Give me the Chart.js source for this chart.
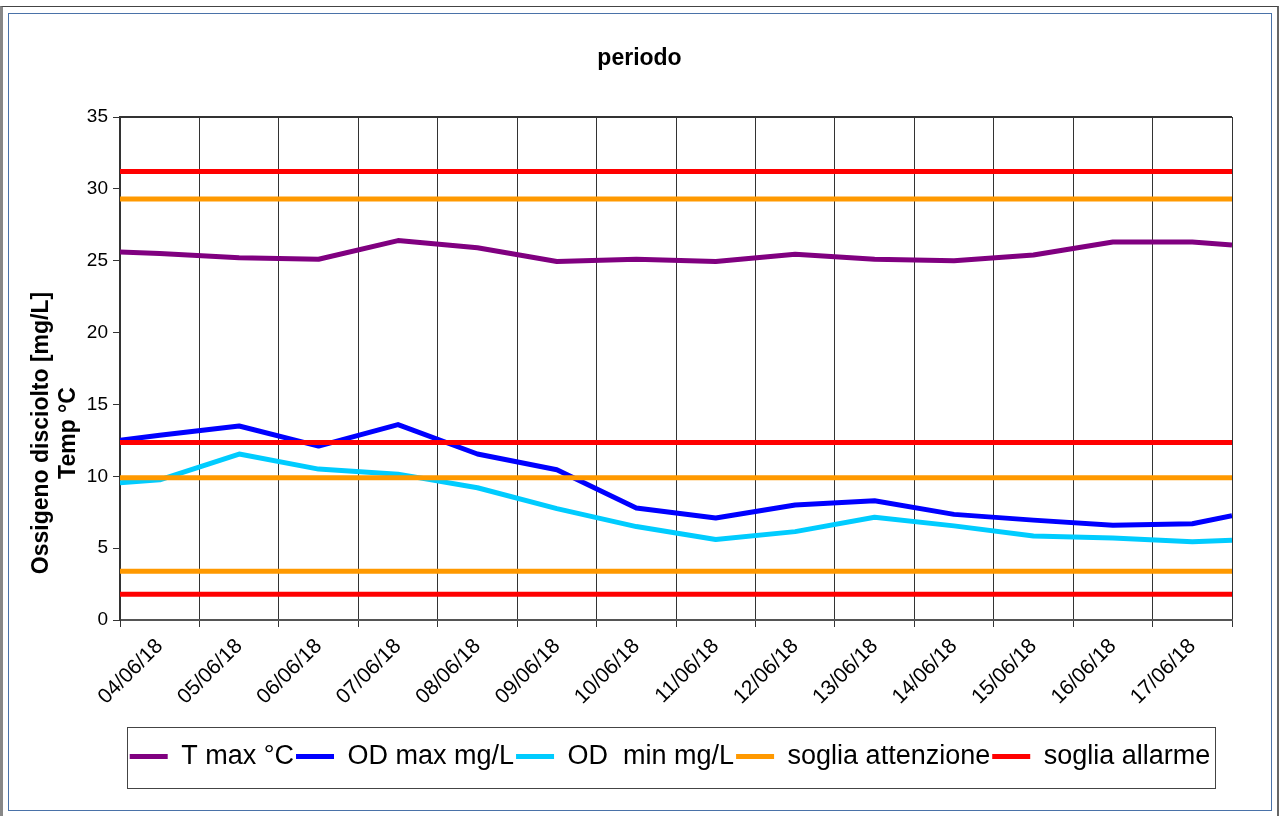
<!DOCTYPE html>
<html>
<head>
<meta charset="utf-8">
<script src="https://cdn.jsdelivr.net/npm/chart.js@4.4.1/dist/chart.umd.min.js"></script>
<style>
html,body{margin:0;padding:0;background:#fff;}
#wrap{position:relative;width:1279px;height:816px;overflow:hidden;background:#fff;}
#outer{position:absolute;left:0;top:6px;width:1279px;height:812px;border-top:1px solid #444;border-left:3px solid #888;border-right:2px solid #666;box-sizing:border-box;}
#inner{position:absolute;left:8px;top:13px;width:1264px;height:798px;border:1px solid #4a72a8;box-sizing:border-box;}
#c{position:absolute;left:0;top:0;}
</style>
</head>
<body>
<div id="wrap"><div id="outer"></div><div id="inner"></div><canvas id="c" width="1279" height="816"></canvas></div>
<script>
// ---- data ----
const dates = ['04/06/18','05/06/18','06/06/18','07/06/18','08/06/18','09/06/18','10/06/18',
               '11/06/18','12/06/18','13/06/18','14/06/18','15/06/18','16/06/18','17/06/18'];
// sample positions in days from 04/06/18 (first/last = period start/end)
const samplePos = [-0.5,0,1,2,3,4,5,6,7,8,9,10,11,12,13,13.5];
const tMax  = [25.6,25.5,25.2,25.1,26.4,25.9,24.95,25.1,24.95,25.45,25.1,25.0,25.4,26.3,26.3,26.1];
const odMax = [12.5,12.85,13.5,12.1,13.6,11.55,10.45,7.8,7.1,8.0,8.3,7.35,6.95,6.6,6.7,7.25];
const odMin = [9.55,9.75,11.55,10.5,10.15,9.2,7.75,6.5,5.6,6.15,7.15,6.55,5.85,5.7,5.45,5.55];
const sogliaAttenzione = [29.3, 9.9, 3.4];
const sogliaAllarme = [31.2, 12.35, 1.8];
const seriesNames = ['T max °C','OD max mg/L','OD  min mg/L','soglia attenzione','soglia allarme'];
const yTicks = [0,5,10,15,20,25,30,35];
const yTitle = ['Ossigeno disciolto [mg/L]','Temp °C'];
const chartTitle = 'periodo';

// ---- build ----
const FONT = '"Liberation Sans", Arial, sans-serif';
const LEG_PAD = 2;
const pts = vals => vals.map((v,i)=>({x: samplePos[i], y: v}));
const levels = lv => {
  const a = samplePos[0], b = samplePos[samplePos.length-1];
  const out = [];
  lv.forEach(v => { out.push({x:a,y:v},{x:b,y:v},{x:b,y:null}); });
  return out;
};
const mk = (label, data, color, order) => ({
  label, data, borderColor: color, backgroundColor: color, borderWidth: 5,
  pointRadius: 0, pointHoverRadius: 0, tension: 0, fill: false, xAxisID: 'xd', yAxisID: 'y',
  order, borderJoinStyle: 'round', borderCapStyle: 'butt'
});

const decor = {
  id: 'decor',
  afterLayout(chart) {
    const lg = chart.legend;
    if (lg) { lg.left -= 6; lg.right -= 6; }
  },
  beforeDatasetsDraw(chart) {
    const {ctx, chartArea: a} = chart;
    ctx.save();
    ctx.strokeStyle = '#333'; ctx.lineWidth = 2;
    ctx.beginPath(); ctx.moveTo(a.left, a.top); ctx.lineTo(a.right, a.top); ctx.stroke();
    ctx.restore();
  },
  afterDraw(chart) {
    const ctx = chart.ctx;
    ctx.save();
    ctx.fillStyle = '#000';
    ctx.font = 'bold 23px ' + FONT;
    ctx.textAlign = 'center'; ctx.textBaseline = 'middle';
    ctx.translate(42, 433); ctx.rotate(-Math.PI/2);
    ctx.fillText(yTitle[0], 0, 0);
    ctx.fillText(yTitle[1], 0, 27);
    ctx.restore();
    const lg = chart.legend;
    if (lg && lg.lineWidths) {
      const w = lg.lineWidths[0];
      const start = (lg.left + LEG_PAD + lg.right - w) / 2;
      const l = start - 3;
      const r = start + w - LEG_PAD + 4;
      const cy = lg.top + LEG_PAD + 27/2;
      ctx.save();
      ctx.strokeStyle = '#444'; ctx.lineWidth = 1;
      ctx.strokeRect(Math.round(l)+0.5, Math.round(cy-30)+0.5, Math.round(r-l), 61);
      ctx.restore();
    }
  }
};

new Chart(document.getElementById('c'), {
  type: 'line',
  data: {
    labels: dates,
    datasets: [
      mk(seriesNames[0], pts(tMax), '#800080', 1),
      mk(seriesNames[1], pts(odMax), '#0000ff', 1),
      mk(seriesNames[2], pts(odMin), '#00ccff', 1),
      mk(seriesNames[3], levels(sogliaAttenzione), '#ff9900', 0),
      mk(seriesNames[4], levels(sogliaAllarme), '#ff0000', 0)
    ]
  },
  options: {
    responsive: false,
    animation: false,
    events: [],
    layout: { padding: { left: 0, right: 0, top: 0, bottom: 36 } },
    plugins: {
      title: { display: true, text: chartTitle, color: '#000',
               font: { family: FONT, size: 23, weight: 'bold' }, padding: { top: 45, bottom: 44.4 } },
      legend: {
        position: 'bottom', fullSize: false,
        labels: {
          color: '#000', font: { family: FONT, size: 27 }, boxWidth: 38, boxHeight: 5, padding: LEG_PAD,
          generateLabels(chart) {
            return chart.data.datasets.map((ds, i) => ({
              text: ds.label, fillStyle: ds.borderColor, strokeStyle: ds.borderColor,
              lineWidth: 0, hidden: false, datasetIndex: i, fontColor: '#000'
            }));
          }
        }
      },
      tooltip: { enabled: false }
    },
    scales: {
      x: {
        type: 'category', offset: true, position: 'bottom',
        grid: { offset: true, color: '#333', lineWidth: 1, tickLength: 7, drawOnChartArea: true },
        border: { display: true, color: '#555', width: 2 },
        ticks: { color: '#000', font: { family: FONT, size: 21 }, minRotation: 45, maxRotation: 45,
                 autoSkip: false, padding: 7 },
        afterFit(s) { s.height = 121; }
      },
      xd: { type: 'linear', display: false, min: samplePos[0], max: samplePos[samplePos.length-1] },
      y: {
        type: 'linear', min: yTicks[0], max: yTicks[yTicks.length-1],
        grid: { display: true, drawOnChartArea: false, color: '#333', tickLength: 7 },
        border: { display: true, color: '#333', width: 2 },
        ticks: { stepSize: 5, color: '#000', font: { family: FONT, size: 19 }, padding: 5 },
        afterFit(s) { s.width = 120; }
      },
      yr: {
        type: 'linear', position: 'right', display: true, min: 0, max: 1,
        grid: { display: false }, border: { display: false }, ticks: { display: false },
        afterFit(s) { s.width = 47; }
      }
    }
  },
  plugins: [decor]
});
</script>
</body>
</html>
